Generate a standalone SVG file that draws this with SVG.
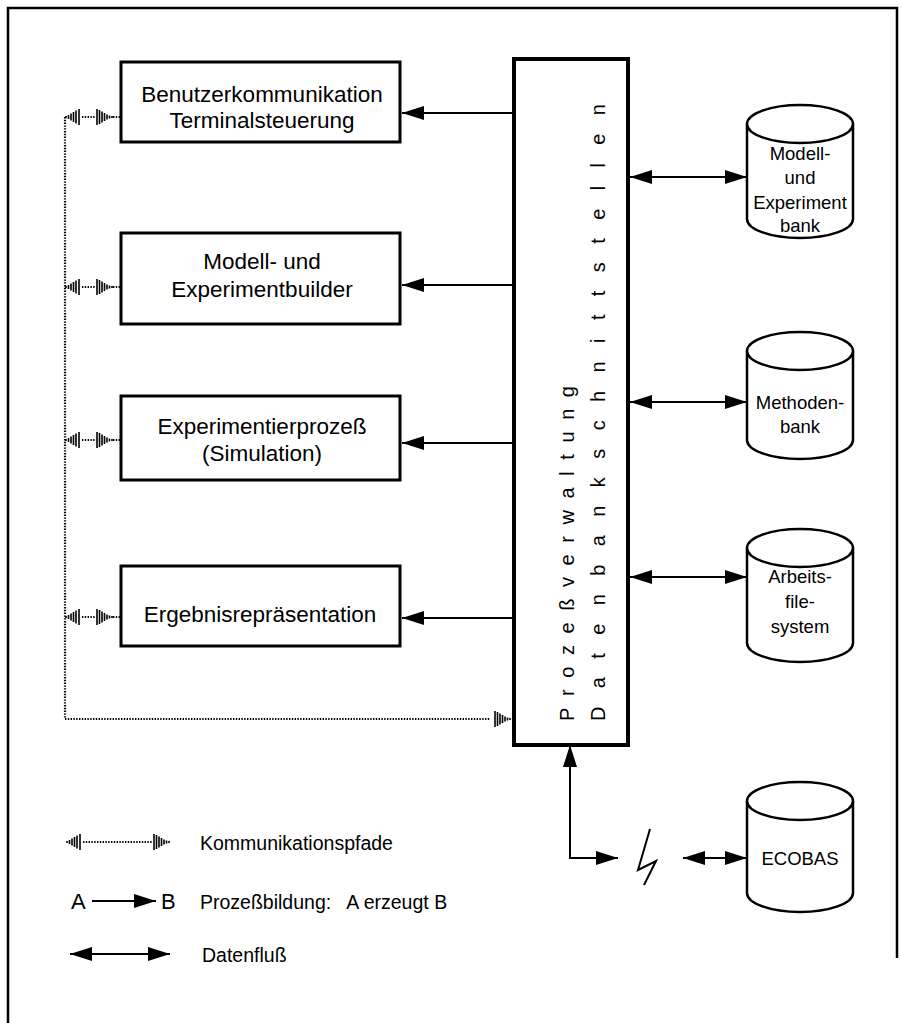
<svg xmlns="http://www.w3.org/2000/svg" width="901" height="1023" viewBox="0 0 901 1023">
  <style>
    .frame { fill: none; stroke: #000; stroke-width: 2.5; }
    .box { fill: #fff; stroke: #000; stroke-width: 3; }
    .core { fill: #fff; stroke: #000; stroke-width: 4; }
    .cyl { fill: #fff; stroke: #000; stroke-width: 2.5; }
    .line { fill: none; stroke: #000; stroke-width: 2; }
    .dots { fill: none; stroke: #000; stroke-width: 2.2; stroke-dasharray: 1.4 1.4; }
    .bars line { stroke: #000; stroke-width: 1.6; }
    .t { font-family: "Liberation Sans", Arial, sans-serif; fill: #000; }
    .lbl { font-size: 22.5px; text-anchor: middle; }
    .db { font-size: 18.5px; text-anchor: middle; }
    .leg { font-size: 19.5px; }
    .vert { font-size: 20px; }
  </style>
  <defs>
    <marker id="head" viewBox="0 0 22 14" refX="22" refY="7" markerWidth="22" markerHeight="14" markerUnits="userSpaceOnUse" orient="auto-start-reverse">
      <path d="M0,0 L22,7 L0,14 Z" fill="#000"/>
    </marker>
    <!-- signal bars growing towards the right -->
    <g id="grow" class="bars">
      <line x1="0" y1="-1" x2="0" y2="1"/>
      <line x1="2.5" y1="-2" x2="2.5" y2="2"/>
      <line x1="5" y1="-3.5" x2="5" y2="3.5"/>
      <line x1="7.5" y1="-5" x2="7.5" y2="5"/>
      <line x1="10" y1="-6.5" x2="10" y2="6.5"/>
      <line x1="13" y1="-8" x2="13" y2="8"/>
    </g>
    <!-- signal bars shrinking towards the right -->
    <g id="shrink" class="bars">
      <line x1="0" y1="-8" x2="0" y2="8"/>
      <line x1="2.5" y1="-7" x2="2.5" y2="7"/>
      <line x1="5" y1="-5.5" x2="5" y2="5.5"/>
      <line x1="7.5" y1="-4" x2="7.5" y2="4"/>
      <line x1="10" y1="-2.5" x2="10" y2="2.5"/>
      <line x1="12.5" y1="-1.5" x2="12.5" y2="1.5"/>
      <line x1="15" y1="-1" x2="15" y2="1"/>
    </g>
  </defs>

  <rect width="901" height="1023" fill="#fff"/>
  <path class="frame" d="M8,1023 V8 H897 V958"/>

  <!-- connectors -->
  <g id="connectors">
    <!-- process creation: manager -> components -->
    <line class="line" x1="514" y1="113" x2="402" y2="113" marker-end="url(#head)"/>
    <line class="line" x1="514" y1="285" x2="402" y2="285" marker-end="url(#head)"/>
    <line class="line" x1="514" y1="443" x2="402" y2="443" marker-end="url(#head)"/>
    <line class="line" x1="514" y1="618" x2="402" y2="618" marker-end="url(#head)"/>
    <!-- data flow to the banks -->
    <line class="line" x1="630" y1="177" x2="747" y2="177" marker-start="url(#head)" marker-end="url(#head)"/>
    <line class="line" x1="630" y1="402" x2="747" y2="402" marker-start="url(#head)" marker-end="url(#head)"/>
    <line class="line" x1="630" y1="577" x2="747" y2="577" marker-start="url(#head)" marker-end="url(#head)"/>
    <line class="line" x1="683" y1="858" x2="747" y2="858" marker-start="url(#head)" marker-end="url(#head)"/>
    <!-- remote link to ECOBAS -->
    <path class="line" d="M618,858 H570 V745" marker-start="url(#head)" marker-end="url(#head)"/>
    <polyline class="line" stroke-width="2.8" points="650,829 638,870 656,861 644,885"/>
    <!-- communication paths -->
    <path class="dots" d="M65,117 V719 H490"/>
    <use href="#grow" x="66" y="117"/>
    <line class="dots" x1="82" y1="117" x2="96" y2="117"/>
    <use href="#shrink" x="97" y="117"/>
    <line class="dots" x1="113" y1="117" x2="120" y2="117"/>
    <use href="#grow" x="66" y="287"/>
    <line class="dots" x1="82" y1="287" x2="96" y2="287"/>
    <use href="#shrink" x="97" y="287"/>
    <line class="dots" x1="113" y1="287" x2="120" y2="287"/>
    <use href="#grow" x="66" y="440"/>
    <line class="dots" x1="82" y1="440" x2="96" y2="440"/>
    <use href="#shrink" x="97" y="440"/>
    <line class="dots" x1="113" y1="440" x2="120" y2="440"/>
    <use href="#grow" x="66" y="617"/>
    <line class="dots" x1="82" y1="617" x2="96" y2="617"/>
    <use href="#shrink" x="97" y="617"/>
    <line class="dots" x1="113" y1="617" x2="120" y2="617"/>
    <use href="#shrink" x="495" y="719"/>
  </g>

  <!-- process manager / database interfaces -->
  <g id="core">
    <rect class="core" x="514" y="59" width="114" height="686"/>
    <text class="t vert" transform="translate(574,721) rotate(-90)" textLength="335" lengthAdjust="spacing">Prozeßverwaltung</text>
    <text class="t vert" transform="translate(605,721) rotate(-90)" textLength="617" lengthAdjust="spacing">Datenbankschnittstellen</text>
  </g>

  <g id="terminal">
    <rect class="box" x="121" y="62" width="279" height="80"/>
    <text class="t lbl" x="262" y="102">Benutzerkommunikation</text>
    <text class="t lbl" x="262" y="128">Terminalsteuerung</text>
  </g>
  <g id="builder">
    <rect class="box" x="121" y="233" width="279" height="91"/>
    <text class="t lbl" x="262" y="269">Modell- und</text>
    <text class="t lbl" x="262" y="297">Experimentbuilder</text>
  </g>
  <g id="experiment">
    <rect class="box" x="121" y="396" width="279" height="84"/>
    <text class="t lbl" x="262" y="434">Experimentierprozeß</text>
    <text class="t lbl" x="262" y="461">(Simulation)</text>
  </g>
  <g id="results">
    <rect class="box" x="121" y="566" width="279" height="80"/>
    <text class="t lbl" x="260" y="622">Ergebnisrepräsentation</text>
  </g>

  <g id="modellbank">
    <path class="cyl" d="M747,124 V219 A53,19 0 0 0 853,219 V124"/>
    <ellipse class="cyl" cx="800" cy="124" rx="53" ry="19"/>
    <text class="t db" x="800" y="160">Modell-</text>
    <text class="t db" x="800" y="184">und</text>
    <text class="t db" x="800" y="209">Experiment</text>
    <text class="t db" x="800" y="232">bank</text>
  </g>
  <g id="methodenbank">
    <path class="cyl" d="M747,351 V440 A53,19 0 0 0 853,440 V351"/>
    <ellipse class="cyl" cx="800" cy="351" rx="53" ry="19"/>
    <text class="t db" x="800" y="409">Methoden-</text>
    <text class="t db" x="800" y="433">bank</text>
  </g>
  <g id="arbeitsfilesystem">
    <path class="cyl" d="M747,548 V643 A53,19 0 0 0 853,643 V548"/>
    <ellipse class="cyl" cx="800" cy="548" rx="53" ry="19"/>
    <text class="t db" x="800" y="583">Arbeits-</text>
    <text class="t db" x="800" y="608">file-</text>
    <text class="t db" x="800" y="633">system</text>
  </g>
  <g id="ecobas">
    <path class="cyl" d="M747,801 V893 A53,19 0 0 0 853,893 V801"/>
    <ellipse class="cyl" cx="800" cy="801" rx="53" ry="19"/>
    <text class="t db" x="800" y="865">ECOBAS</text>
  </g>

  <!-- legend -->
  <g id="legend">
    <use href="#grow" x="67" y="842"/>
    <line class="dots" x1="83" y1="842" x2="153" y2="842" stroke-width="1.6"/>
    <use href="#shrink" x="154" y="842"/>
    <text class="t leg" x="200" y="850">Kommunikationspfade</text>
    <text class="t" x="71" y="909" font-size="22">A</text>
    <line class="line" x1="92" y1="901" x2="156" y2="901" marker-end="url(#head)"/>
    <text class="t" x="161" y="909" font-size="22">B</text>
    <text class="t leg" x="200" y="909" xml:space="preserve">Prozeßbildung:   A erzeugt B</text>
    <line class="line" x1="70" y1="954" x2="170" y2="954" marker-start="url(#head)" marker-end="url(#head)"/>
    <text class="t leg" x="202" y="962">Datenfluß</text>
  </g>
</svg>
